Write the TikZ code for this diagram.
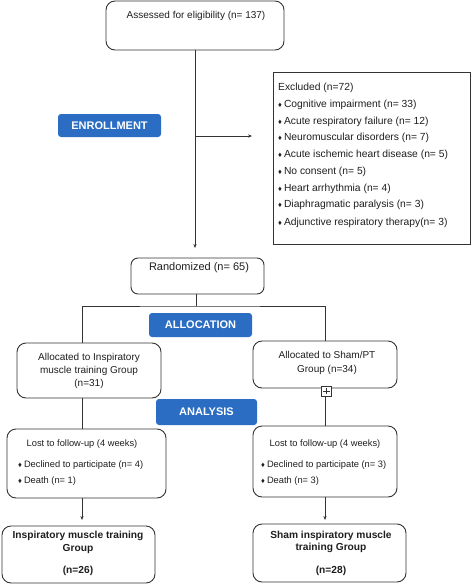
\documentclass[tikz,border=0pt]{standalone}
\usepackage{fontspec}
\setmainfont{Liberation Sans}
\usetikzlibrary{arrows.meta,calc}
\definecolor{lc}{HTML}{333333}
\definecolor{tc}{HTML}{1E1E1E}
\definecolor{hb}{HTML}{2A6DC2}
\newcommand{\bul}{{\fontsize{7.5}{7}\selectfont ♦}\hspace{2pt}}
\tikzset{
 ln/.style={draw=lc, line width=0.8pt},
 arr/.style={ln, -{Stealth[length=4pt,width=3.2pt]}},
 rbox/.style={draw=lc, line width=0.9pt, rounded corners=9pt, inner sep=0pt},
 sbox/.style={draw=lc, line width=0.9pt, inner sep=0pt},
 hdr/.style={fill=hb, rounded corners=3pt, text=white, font=\fontsize{11}{13}\selectfont\bfseries, inner sep=0pt},
 tx/.style={text=tc, font=\fontsize{10}{12}\selectfont, inner sep=0pt},
 etx/.style={text=tc, font=\fontsize{10.3}{12}\selectfont, inner sep=0pt, anchor=west},
 ltx/.style={text=tc, font=\fontsize{9.3}{11}\selectfont, inner sep=0pt},
 btx/.style={text=tc, font=\fontsize{10.2}{12}\selectfont\bfseries, inner sep=0pt},
}
\begin{document}
\begin{tikzpicture}[x=1pt,y=-1pt]
\useasboundingbox (0,0) rectangle (472,586);
% helper x positions
\coordinate (lx) at (82,0);
\coordinate (rx) at (325,0);
\coordinate (mx) at (195,0);
% boxes
\node[rbox, minimum width=178pt, minimum height=49pt] (assess) at (195,25.5) {};
\node[tx] (assessT) at (196,16) {Assessed for eligibility (n= 137)};
\node[sbox, minimum width=197pt, minimum height=172pt] (excl) at (371.5,158) {};
\node[etx] (e1) at (278,88) {Excluded (n=72)};
\node[etx] (e2) at (278,104.5) {\bul Cognitive impairment (n= 33)};
\node[etx] (e3) at (278,121.5) {\bul Acute respiratory failure (n= 12)};
\node[etx] (e4) at (278,138) {\bul Neuromuscular disorders (n= 7)};
\node[etx] (e5) at (278,155) {\bul Acute ischemic heart disease (n= 5)};
\node[etx] (e6) at (278,172) {\bul No consent (n= 5)};
\node[etx] (e7) at (278,188.5) {\bul Heart arrhythmia (n= 4)};
\node[etx] (e8) at (278,205) {\bul Diaphragmatic paralysis (n= 3)};
\node[etx] (e9) at (278,222.5) {\bul Adjunctive respiratory therapy(n= 3)};
\node[hdr, minimum width=103pt, minimum height=23pt] (enroll) at (109.5,125.5) {ENROLLMENT};
\node[rbox, rounded corners=7pt, minimum width=133pt, minimum height=36pt] (rand) at (197.5,276) {};
\node[tx, font=\fontsize{11}{13}\selectfont] (randT) at (199,267.5) {Randomized (n= 65)};
\node[hdr, minimum width=103pt, minimum height=24pt] (alloc) at (200.5,325) {ALLOCATION};
\node[rbox, minimum width=144pt, minimum height=55pt] (allocL) at (89,370.5) {};
\node[tx, align=center, font=\fontsize{10}{13}\selectfont] (allocLT) at (89,371) {Allocated to Inspiratory\\muscle training Group\\(n=31)};
\node[rbox, minimum width=144pt, minimum height=47pt] (allocR) at (325,364.5) {};
\node[tx, align=center, font=\fontsize{10}{13.5}\selectfont] (allocRT) at (327,363) {Allocated to Sham/PT\\Group (n=34)};
\node[draw=lc, fill=white, line width=0.8pt, minimum width=10pt, minimum height=10pt, inner sep=0pt] (plus) at (326.5,391) {};
\draw[lc, line width=0.9pt] ($(plus.west)+(2.2pt,0)$) -- ($(plus.east)+(-2.2pt,0)$);
\draw[lc, line width=0.9pt] ($(plus.north)+(0,-2.2pt)$) -- ($(plus.south)+(0,2.2pt)$);
\node[hdr, minimum width=101pt, minimum height=26pt] (analysis) at (206.5,412) {ANALYSIS};
\node[rbox, minimum width=159pt, minimum height=69pt] (lostL) at (86.5,463.5) {};
\node[ltx] (lostLT) at (82,444) {Lost to follow-up (4 weeks)};
\node[ltx, anchor=west] (lostL1) at (18,465.5) {\bul Declined to participate (n= 4)};
\node[ltx, anchor=west] (lostL2) at (18,481) {\bul Death (n= 1)};
\node[rbox, minimum width=144pt, minimum height=71pt] (lostR) at (325,461.5) {};
\node[ltx] (lostRT) at (325,444) {Lost to follow-up (4 weeks)};
\node[ltx, anchor=west] (lostR1) at (261,465.5) {\bul Declined to participate (n= 3)};
\node[ltx, anchor=west] (lostR2) at (261,481) {\bul Death (n= 3)};
\node[rbox, minimum width=153pt, minimum height=57pt] (finL) at (78.5,554.5) {};
\node[btx, align=center, font=\fontsize{10.2}{13}\selectfont\bfseries] (finLT) at (78,542.5) {Inspiratory muscle training\\Group};
\node[btx] (finLN) at (78,571) {(n=26)};
\node[rbox, minimum width=153pt, minimum height=58pt] (finR) at (329.5,553) {};
\node[btx, align=center, font=\fontsize{10.2}{12.5}\selectfont\bfseries] (finRT) at (331,542) {Sham inspiratory muscle\\training Group};
\node[btx] (finRN) at (331,571) {(n=28)};
% connectors
\coordinate (a1) at (195,248);
\coordinate (a2) at (252,136);
\coordinate (br) at (195,136);
\draw[arr] (assess.south -| mx) -- (a1);
\draw[arr] (br) -- (a2);
\coordinate (split) at (196,306);
\draw[ln] (rand.south -| split) -- (split);
\draw[ln] (allocL.north -| lx) |- (split) -| (allocR.north -| rx);
\draw[ln] (allocL.south -| lx) -- (lostL.north -| lx);
\draw[ln] (plus.south -| rx) -- (lostR.north -| rx);
\coordinate (aL) at (82,520);
\coordinate (aR) at (325,520);
\draw[arr] (lostL.south -| lx) -- (aL);
\draw[arr] (lostR.south -| rx) -- (aR);
\end{tikzpicture}
\end{document}
